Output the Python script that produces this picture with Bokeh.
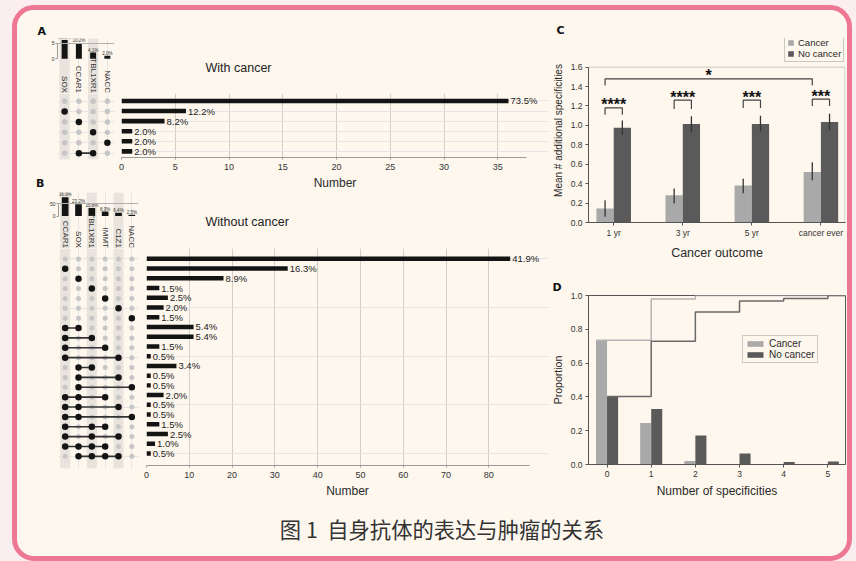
import numpy as np
from bokeh.plotting import figure
from bokeh.layouts import row, column
from bokeh.models import (Range1d, FactorRange, FixedTicker, SingleIntervalTicker,
                          Title, Div, PrintfTickFormatter, BoxAnnotation)
from bokeh.core.properties import value
from bokeh.embed import file_html
from bokeh.resources import INLINE

# ---------------- data ----------------
# Panel A: intersections, patients with cancer
sets_a = ["SOX", "CCAR1", "TBL1XR1", "NACC"]
combos_a = [(), ("SOX",), ("CCAR1",), ("TBL1XR1",), ("NACC",), ("CCAR1", "TBL1XR1")]
counts_a = [36, 6, 4, 1, 1, 1]

# Panel B: intersections, patients without cancer
sets_b = ["CCAR1", "SOX", "TBL1XR1", "IMMT", "C1Z1", "NACC"]
combos_b = [(), ("CCAR1",), ("SOX",), ("TBL1XR1",), ("IMMT",), ("C1Z1",), ("NACC",),
            ("CCAR1", "SOX"), ("CCAR1", "TBL1XR1"), ("CCAR1", "IMMT"), ("CCAR1", "C1Z1"),
            ("SOX", "TBL1XR1"), ("SOX", "C1Z1"), ("SOX", "NACC"),
            ("CCAR1", "SOX", "IMMT"), ("CCAR1", "SOX", "C1Z1"), ("CCAR1", "SOX", "NACC"),
            ("CCAR1", "TBL1XR1", "IMMT"), ("CCAR1", "TBL1XR1", "C1Z1"),
            ("CCAR1", "SOX", "TBL1XR1", "IMMT"), ("SOX", "TBL1XR1", "IMMT", "C1Z1")]
counts_b = [85, 33, 18, 3, 5, 4, 3, 11, 11, 3, 1, 7, 1, 1, 4, 1, 1, 3, 5, 2, 1]

# Panel C
outcomes = ["1 yr", "3 yr", "5 yr", "cancer ever"]
c_mean = [0.145, 0.28, 0.38, 0.52]
c_lo = [0.06, 0.195, 0.30, 0.435]
c_hi = [0.23, 0.35, 0.45, 0.62]
n_mean = [0.975, 1.015, 1.015, 1.035]
n_lo = [0.90, 0.93, 0.94, 0.95]
n_hi = [1.05, 1.095, 1.10, 1.12]
stars = ["****", "****", "***", "***"]
star_level = [1.18, 1.26, 1.26, 1.27]
star_leg = [1.11, 1.17, 1.18, 1.20]
overall_star = "*"
overall_level = 1.48
overall_leg = 1.41
c_ymax = 1.6

# Panel D
n_spec = [0, 1, 2, 3, 4, 5]
d_cancer = [0.735, 0.245, 0.020, 0.0, 0.0, 0.0]
d_nocancer = [0.402, 0.328, 0.172, 0.065, 0.015, 0.018]

caption = "图 1  自身抗体的表达与肿瘤的关系"

# ---------------- style ----------------
BG = "#fdf7ee"
BLACK = "#141414"
GRAYDOT = "#c6c6c6"
SHADE = "#e8e3dc"
LIGHT = "#a9a9a9"
DARK = "#5a5a5a"
FONT = "Liberation Sans"
TXT = "#2a2a2a"


def fig(w, h, xr, yr, l, r, t, b, xloc=None, yloc=None):
    return figure(width=w, height=h, x_range=xr, y_range=yr, title=None,
                  x_axis_location=xloc, y_axis_location=yloc,
                  toolbar_location=None, tools="", output_backend="svg",
                  min_border_left=l, min_border_right=r, min_border_top=t,
                  min_border_bottom=b, background_fill_color=BG,
                  border_fill_color=BG, outline_line_color=None)


def style_axis(ax, size="9px"):
    ax.major_label_text_font = FONT
    ax.major_label_text_font_size = size
    ax.major_label_text_color = "#333"
    ax.axis_label_text_font = FONT
    ax.axis_label_text_font_style = "normal"
    ax.axis_label_text_color = TXT
    ax.minor_tick_line_color = None


def letter(p, txt, offset, standoff):
    p.add_layout(Title(text=txt, align="left", offset=offset, standoff=standoff,
                       text_font="DejaVu Sans", text_font_style="bold",
                       text_font_size="11px", text_color="#111"), "above")


def style_legend(lg, loc, gw, gh, size):
    lg.location = loc
    lg.margin = 0
    lg.padding = 2
    lg.spacing = 0
    lg.glyph_width = gw
    lg.glyph_height = gh
    lg.label_standoff = 4
    lg.label_height = 9
    lg.label_text_font = FONT
    lg.label_text_font_size = size
    lg.label_text_color = TXT
    lg.border_line_color = "#999"
    lg.background_fill_color = BG
    lg.background_fill_alpha = 1


def upset(sets, combos, counts, top_w, top_h, top_b, mat_h, mat_b, yr_top, yr_rows,
          lb, rb, bar_w, tick_top, bar_shade_w, dot_g, dot_b):
    total = sum(counts)
    xr = FactorRange(factors=sets)
    sizes = [sum(c for cmb, c in zip(combos, counts) if s in cmb) for s in sets]
    shade = sets[0::2]

    top = fig(top_w, top_h, xr, yr_top, lb, rb, top_b, 0, yloc="left")
    top.vbar(x=shade, top=yr_top.end, bottom=yr_top.start, width=bar_shade_w,
             color=SHADE, line_color=None)
    top.vbar(x=sets, top=sizes, width=bar_w, color=BLACK, line_color=None)
    top.text(x=sets, y=sizes, text=[f"{v / total * 100:.1f}%" for v in sizes],
             text_font=value(FONT), text_font_size="4.5px", text_align="center",
             text_baseline="bottom", text_color="#333")
    name_y = yr_top.start + (yr_top.end - yr_top.start) * 0.01
    top.text(x=sets, y=[name_y] * len(sets), text=sets, angle=-np.pi / 2,
             text_align="right", text_baseline="middle", text_font=value(FONT),
             text_font_size="8px", text_color="#333")
    ax = top.yaxis[0]
    style_axis(ax, "5px")
    ax.ticker = FixedTicker(ticks=[0, tick_top])
    ax.bounds = (0, tick_top)
    ax.major_tick_out = 2
    ax.major_tick_in = 0
    ax.major_label_standoff = 1
    ax.axis_line_color = "#999"
    ax.major_tick_line_color = "#999"
    top.ygrid.ticker = FixedTicker(ticks=[tick_top])
    top.ygrid.grid_line_color = "#b0b0b0"
    top.ygrid.level = "glyph"

    mat = fig(top_w, mat_h, xr, yr_rows, lb, rb, 0, mat_b)
    mat.vbar(x=shade, top=yr_rows.end, bottom=yr_rows.start, width=bar_shade_w,
             color=SHADE, line_color=None)
    gx, gy, bx, by = [], [], [], []
    s0, s1, sy = [], [], []
    for i, cmb in enumerate(combos):
        for s in sets:
            if s in cmb:
                bx.append(s); by.append(i)
            else:
                gx.append(s); gy.append(i)
        if len(cmb) > 1:
            mem = [s for s in sets if s in cmb]
            s0.append(mem[0]); s1.append(mem[-1]); sy.append(i)
    mat.scatter(x=gx, y=gy, size=dot_g, color=GRAYDOT, line_color=None)
    mat.segment(x0=s0, y0=sy, x1=s1, y1=sy, line_color="#333", line_width=1.6)
    mat.scatter(x=bx, y=by, size=dot_b, color=BLACK, line_color=None)
    return top, mat, total


def barchart(counts, total, w, h, xr, yr, l, t, b, interval, bound, title, toff, tstand):
    p = fig(w, h, xr, yr, l, 0, t, b, xloc="below")
    rows = list(range(len(counts)))
    p.hbar(y=rows, left=0, right=counts, height=0.46, color=BLACK, line_color=None)
    p.text(x=counts, y=rows, text=[f"{c / total * 100:.1f}%" for c in counts],
           x_offset=2, text_baseline="middle", text_font=value(FONT),
           text_font_size="9.5px", text_color="#222")
    ax = p.xaxis[0]
    style_axis(ax, "9px")
    ax.ticker = SingleIntervalTicker(interval=interval)
    ax.bounds = (0, bound)
    ax.axis_label = "Number"
    ax.axis_label_text_font_size = "12px"
    ax.axis_line_color = "#9a9a9a"
    ax.major_tick_line_color = "#9a9a9a"
    ax.major_tick_out = 2
    ax.major_tick_in = 0
    ax.major_label_standoff = 2
    ax.axis_label_standoff = 3
    p.xgrid.grid_line_color = "#d3cec6"
    p.add_layout(Title(text=title, align="left", offset=toff, standoff=tstand,
                       text_font=FONT, text_font_style="normal",
                       text_font_size="12.5px", text_color="#222"), "above")
    return p


# ---------------- panel A ----------------
ya_top = Range1d(-11.12, 6.5)
ya = Range1d(5.61, -0.74)
A_top, A_mat, tot_a = upset(sets_a, combos_a, counts_a, 101, 83, 28, 82, 16, ya_top, ya,
                            40, 4, 0.42, 5, 0.72, 5.5, 6.5)
A_bar = barchart(counts_a, tot_a, 430, 182, Range1d(0, 39.72), ya, 3, 83, 33, 5, 37.7,
                 "With cancer", 84, 38)
letter(A_top, "A", -20, 1)
B_lab = Div(text=('<div style="padding-left:19px;font-family:\'DejaVu Sans\';'
                  'font-weight:bold;font-size:11px;color:#111;line-height:17px;">B</div>'),
            width=101, height=17, margin=0)

# ---------------- panel B ----------------
yb_top = Range1d(-130, 94)
yb = Range1d(21.23, -1.06)
B_top, B_mat, tot_b = upset(sets_b, combos_b, counts_b, 124, 56, 0, 252, 32, yb_top, yb,
                            41, 3, 0.5, 50, 0.75, 5.0, 6.5)
B_bar = barchart(counts_b, tot_b, 407, 308, Range1d(0, 93.95), yb, 5, 56, 32, 10, 89.4,
                 "Without cancer", 59, 40)

# ---------------- panel C ----------------
C = fig(299, 258, Range1d(0.635, 4.356), Range1d(0, 1.895), 39, 2, 28, 46,
        xloc="below", yloc="left")
xpos = np.arange(1, len(outcomes) + 1)
bw = 0.25
C.vbar(x=xpos - bw / 2, top=c_mean, width=bw, color=LIGHT, line_color=None,
       legend_label="Cancer")
C.vbar(x=xpos + bw / 2, top=n_mean, width=bw, color=DARK, line_color=None,
       legend_label="No cancer")
C.segment(x0=xpos - bw / 2, y0=c_lo, x1=xpos - bw / 2, y1=c_hi, line_color="#333", line_width=1.3)
C.segment(x0=xpos + bw / 2, y0=n_lo, x1=xpos + bw / 2, y1=n_hi, line_color="#333", line_width=1.3)
bxs = [[x - bw / 2, x - bw / 2, x + bw / 2, x + bw / 2] for x in xpos]
bys = [[lg, lv, lv, lg] for lv, lg in zip(star_level, star_leg)]
bxs.append([xpos[0] - bw / 2, xpos[0] - bw / 2, xpos[-1] - bw / 2, xpos[-1] - bw / 2])
bys.append([overall_leg, overall_level, overall_level, overall_leg])
C.multi_line(xs=bxs, ys=bys, line_color="#444", line_width=1.2)
C.text(x=list(xpos) + [(xpos[0] + xpos[-1]) / 2 - bw / 2],
       y=star_level + [overall_level], text=stars + [overall_star],
       text_align="center", text_baseline="alphabetic", y_offset=-3,
       text_font=value(FONT), text_font_style="bold", text_font_size="16px",
       text_color="#111")
C.add_layout(BoxAnnotation(bottom=0, top=c_ymax, right=C.x_range.end - 0.008,
                           fill_alpha=0, line_color="#555", line_width=1))
for ax in (C.xaxis[0], C.yaxis[0]):
    style_axis(ax, "8.5px")
    ax.axis_line_color = "#555"
    ax.major_tick_line_color = "#555"
    ax.major_tick_out = 3
    ax.major_tick_in = 0
    ax.major_label_standoff = 2
C.yaxis[0].ticker = SingleIntervalTicker(interval=0.2)
C.yaxis[0].bounds = (0, c_ymax)
C.yaxis[0].formatter = PrintfTickFormatter(format="%.1f")
C.yaxis[0].axis_label = "Mean # additional specificities"
C.yaxis[0].axis_label_text_font_size = "10px"
C.yaxis[0].axis_label_standoff = 4
C.xaxis[0].ticker = FixedTicker(ticks=[int(x) for x in xpos])
C.xaxis[0].major_label_overrides = {int(x): lab for x, lab in zip(xpos, outcomes)}
C.xaxis[0].axis_label = "Cancer outcome"
C.xaxis[0].axis_label_text_font_size = "12.5px"
C.xaxis[0].axis_label_standoff = 5
C.grid.visible = False
style_legend(C.legend[0], (196, 160), 7, 7, "9.5px")
letter(C, "C", -32, 4)

# ---------------- panel D ----------------
D = fig(299, 232, Range1d(-0.42, 5.40), Range1d(0, 1.0), 40, 2, 27, 33,
        xloc="below", yloc="left")
D.outline_line_color = "#555"
xs = np.array(n_spec)
D.vbar(x=xs - 0.125, top=d_cancer, width=0.25, color=LIGHT, line_color=None,
       legend_label="Cancer")
D.vbar(x=xs + 0.125, top=d_nocancer, width=0.25, color=DARK, line_color=None,
       legend_label="No cancer")
cum_c = np.cumsum(d_cancer)
cum_n = np.cumsum(d_nocancer)
xend = D.x_range.end
D.step(x=[n_spec[0] - 0.25] + n_spec[1:] + [xend], y=list(cum_c) + [cum_c[-1]],
       mode="after", line_color="#b4b4b4", line_width=1.5)
D.step(x=n_spec + [xend], y=list(cum_n) + [cum_n[-1]],
       mode="after", line_color="#696969", line_width=1.5)
for ax in (D.xaxis[0], D.yaxis[0]):
    style_axis(ax, "8.5px")
    ax.axis_line_color = "#555"
    ax.major_tick_line_color = "#555"
    ax.major_tick_out = 3
    ax.major_tick_in = 0
    ax.major_label_standoff = 2
D.yaxis[0].ticker = SingleIntervalTicker(interval=0.2)
D.yaxis[0].formatter = PrintfTickFormatter(format="%.1f")
D.yaxis[0].axis_label = "Proportion"
D.yaxis[0].axis_label_text_font_size = "10.5px"
D.yaxis[0].axis_label_standoff = 4
D.xaxis[0].ticker = SingleIntervalTicker(interval=1)
D.xaxis[0].axis_label = "Number of specificities"
D.xaxis[0].axis_label_text_font_size = "12px"
D.xaxis[0].axis_label_standoff = 4
D.grid.visible = False
style_legend(D.legend[0], (154, 101), 20, 7, "10px")
letter(D, "D", -36, 4)

# ---------------- layout ----------------
cap = Div(text=('<div style="width:830px;box-sizing:border-box;text-align:center;'
                'font-family:\'Noto Sans CJK SC\';font-size:21.3px;line-height:26px;'
                'color:#333;white-space:pre;padding-top:16px;padding-left:20px;">'
                + caption + '</div>'),
          width=830, height=56, margin=0)

left_col = column(row(column(A_top, A_mat, B_lab), A_bar),
                  row(column(B_top, B_mat), B_bar))
right_col = column(C, D)
card = column(row(left_col, right_col), cap,
              styles={"background-color": BG, "border": "5px solid #ee7893",
                      "border-radius": "22px", "overflow": "hidden",
                      "width": "840px", "height": "556px", "box-sizing": "border-box"})
page = column(card, styles={"background-color": "#fbeef0", "padding": "5px 0 0 12px",
                            "width": "856px", "height": "561px",
                            "box-sizing": "border-box", "overflow": "hidden"})

open("out.html", "w").write(file_html(page, INLINE))
